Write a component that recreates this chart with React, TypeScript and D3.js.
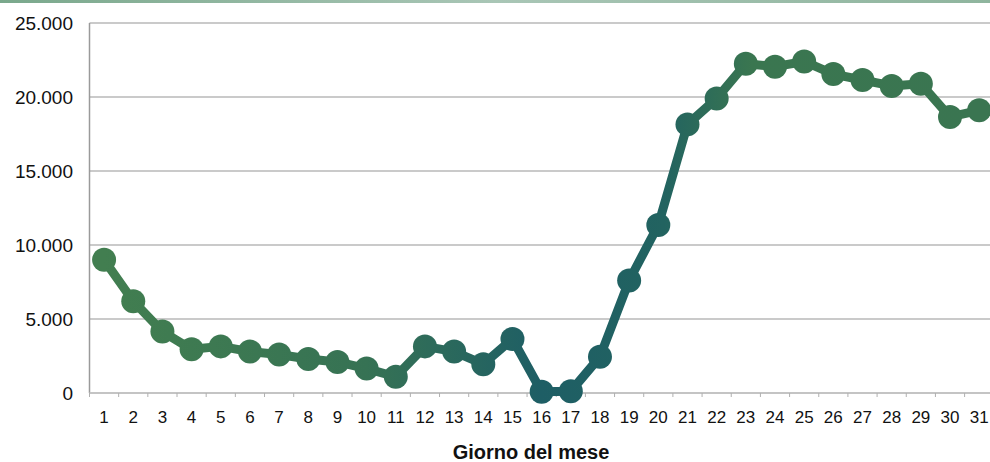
import React, { useRef, useEffect } from 'react';
import * as d3 from 'd3';

const days = d3.range(1, 32).map(String);
const values = [
  9000, 6200, 4150, 2950, 3150, 2800, 2600, 2300, 2100, 1650, 1100, 3150, 2800, 1950, 3650,
  80, 120, 2450, 7600, 11350, 18150, 19900, 22250, 22050, 22400, 21550, 21150, 20750, 20900,
  18650, 19100
];
const yTicks = [0, 5000, 10000, 15000, 20000, 25000];
const xTitle = 'Giorno del mese';

const W = 990;
const H = 462;

const fmt = (v: number) => d3.format(',')(v).replace(/,/g, '.');

const App: React.FC = () => {
  const ref = useRef<SVGSVGElement | null>(null);

  useEffect(() => {
    if (!ref.current) return;
    const svg = d3.select(ref.current);
    svg.selectAll('*').remove();

    const left = 89.5;
    const step = 29.17;
    const x = d3
      .scaleBand<string>()
      .domain(days)
      .range([left, left + step * days.length]);
    const y = d3.scaleLinear().domain([0, 25000]).range([393, 23]);
    const cx = (d: string) => (x(d) as number) + x.bandwidth() / 2;

    const defs = svg.append('defs');
    const tg = defs
      .append('linearGradient')
      .attr('id', 'topg')
      .attr('x1', '0%')
      .attr('x2', '100%');
    tg.append('stop').attr('offset', '0%').attr('stop-color', '#7aa88c');
    tg.append('stop').attr('offset', '50%').attr('stop-color', '#a9c6b6');
    tg.append('stop').attr('offset', '100%').attr('stop-color', '#8fb59e');

    const lg = defs
      .append('linearGradient')
      .attr('id', 'lineg')
      .attr('gradientUnits', 'userSpaceOnUse')
      .attr('x1', cx('1'))
      .attr('x2', cx('31'))
      .attr('y1', 0)
      .attr('y2', 0);
    const stops: [number, string][] = [
      [0, '#427e50'],
      [0.3, '#367254'],
      [0.5, '#1e5e65'],
      [0.64, '#226360'],
      [0.74, '#3a7650'],
      [1, '#3a7551']
    ];
    stops.forEach(([o, c]) => lg.append('stop').attr('offset', o).attr('stop-color', c));

    svg.append('rect').attr('x', 0).attr('y', 0).attr('width', W).attr('height', 3).attr('fill', 'url(#topg)');

    // grid
    svg
      .append('g')
      .selectAll('line')
      .data(yTicks.filter(t => t > 0))
      .join('line')
      .attr('x1', left)
      .attr('x2', W)
      .attr('y1', d => y(d))
      .attr('y2', d => y(d))
      .attr('stroke', '#b8b8b8')
      .attr('stroke-width', 1.5);

    // y axis line
    svg
      .append('line')
      .attr('x1', left)
      .attr('x2', left)
      .attr('y1', y(25000))
      .attr('y2', y(0))
      .attr('stroke', '#9a9a9a')
      .attr('stroke-width', 1.5);

    // x axis
    const xa = svg.append('g').attr('transform', `translate(0,${y(0)})`);
    xa.append('line')
      .attr('x1', left)
      .attr('x2', W)
      .attr('stroke', '#c4c4c4')
      .attr('stroke-width', 2);
    xa.selectAll('line.tick')
      .data(d3.range(days.length + 1))
      .join('line')
      .attr('class', 'tick')
      .attr('x1', i => left + i * step)
      .attr('x2', i => left + i * step)
      .attr('y1', 0)
      .attr('y2', 4)
      .attr('stroke', '#b0b0b0');
    xa.selectAll('text')
      .data(days)
      .join('text')
      .attr('x', d => cx(d))
      .attr('y', 30)
      .attr('text-anchor', 'middle')
      .attr('font-family', 'Liberation Sans, Arial, sans-serif')
      .attr('font-size', 17)
      .attr('fill', '#111')
      .text(d => d);

    // y labels
    svg
      .append('g')
      .selectAll('text')
      .data(yTicks)
      .join('text')
      .attr('x', 73)
      .attr('y', d => y(d) + 7)
      .attr('text-anchor', 'end')
      .attr('font-family', 'Liberation Sans, Arial, sans-serif')
      .attr('font-size', 19)
      .attr('fill', '#111')
      .text(d => fmt(d));

    svg
      .append('text')
      .attr('x', 531)
      .attr('y', 459)
      .attr('text-anchor', 'middle')
      .attr('font-family', 'Liberation Sans, Arial, sans-serif')
      .attr('font-size', 20)
      .attr('font-weight', 'bold')
      .attr('fill', '#111')
      .text(xTitle);

    const data = days.map((d, i) => ({ d, v: values[i] }));
    const line = d3
      .line<{ d: string; v: number }>()
      .x(p => cx(p.d))
      .y(p => y(p.v));

    svg
      .append('path')
      .datum(data)
      .attr('fill', 'none')
      .attr('stroke', 'url(#lineg)')
      .attr('stroke-width', 9)
      .attr('stroke-linejoin', 'round')
      .attr('d', line);

    svg
      .append('g')
      .selectAll('circle')
      .data(data)
      .join('circle')
      .attr('cx', p => cx(p.d))
      .attr('cy', p => y(p.v))
      .attr('r', 12)
      .attr('fill', 'url(#lineg)');
  }, []);

  return (
    <svg
      ref={ref}
      width={W}
      height={H}
      viewBox={`0 0 ${W} ${H}`}
      style={{ position: 'absolute', left: 0, top: 0, background: '#fff' }}
    />
  );
};

export default App;
